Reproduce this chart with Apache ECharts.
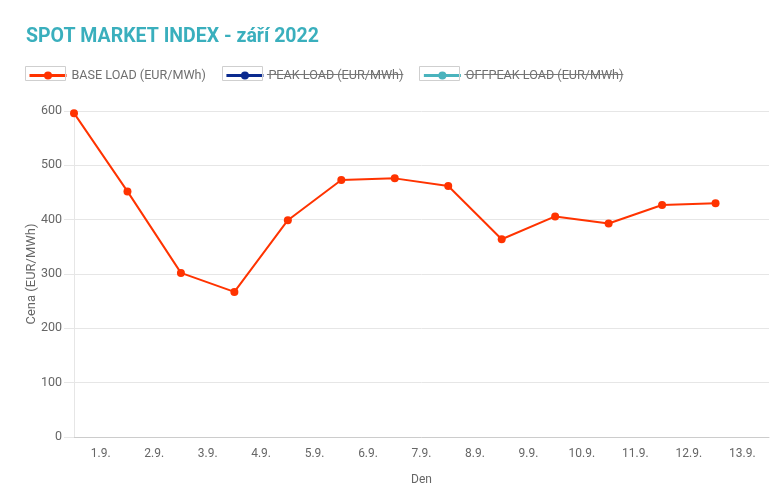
<!DOCTYPE html>
<html><head><meta charset="utf-8">
<script src="https://cdn.jsdelivr.net/npm/echarts@6/dist/echarts.min.js"></script>
<style>html,body{margin:0;padding:0;background:#fff}#c{width:780px;height:493px}</style>
</head><body><div id="c"></div>
<script>
const days = ['1.9.','2.9.','3.9.','4.9.','5.9.','6.9.','7.9.','8.9.','9.9.','10.9.','11.9.','12.9.','13.9.'];
const baseLoad = [596, 452, 302, 267, 399, 473, 476, 462, 364, 406, 393, 427, 430];
const peakLoad = [];
const offpeakLoad = [];
const yTicks = [0, 100, 200, 300, 400, 500, 600];

const chart = echarts.init(document.getElementById('c'), null, {renderer: 'canvas'});
const F = 'Roboto, "Liberation Sans", sans-serif';
const toPts = arr => arr.map((v, i) => [i, v]);

chart.setOption({
  animation: false,
  title: {
    text: 'SPOT MARKET INDEX - září 2022',
    left: 21, top: 22,
    textStyle: {color: '#3aafbd', fontSize: 19.5, fontWeight: 'bold', fontFamily: F}
  },
  legend: {
    left: 28, top: 69, padding: 0,
    itemWidth: 37, itemHeight: 10, itemGap: 19,
    lineStyle: {width: 3},
    textStyle: {color: '#6f6f6f', fontSize: 12.6, fontFamily: F},
    selectedMode: false,
    data: ['BASE LOAD (EUR/MWh)', 'PEAK LOAD (EUR/MWh)', 'OFFPEAK LOAD (EUR/MWh)']
  },
  grid: {left: 74, right: 11, top: 111, bottom: 56, containLabel: false},
  xAxis: [{
    type: 'category',
    data: days,
    boundaryGap: true,
    name: 'Den', nameLocation: 'middle', nameGap: 37, nameMoveOverlap: false,
    nameTextStyle: {color: '#666', fontSize: 12, fontFamily: F},
    axisLine: {show: true, lineStyle: {color: '#cccccc', width: 1}},
    axisTick: {show: false},
    axisLabel: {color: '#666', fontSize: 12, fontFamily: F, margin: 11},
    splitLine: {show: false}
  }, {
    type: 'value', min: 0, max: days.length, show: false
  }],
  yAxis: {
    type: 'value', min: 0, max: 600, interval: 100,
    name: 'Cena (EUR/MWh)', nameLocation: 'middle', nameGap: 36, nameRotate: 90,
    nameMoveOverlap: false,
    nameTextStyle: {color: '#666', fontSize: 13, fontFamily: F},
    axisLine: {show: true, lineStyle: {color: '#e6e6e6'}},
    axisTick: {show: true, length: 10, lineStyle: {color: '#e6e6e6'}},
    axisLabel: {color: '#666', fontSize: 12.5, fontFamily: F, margin: 12},
    splitLine: {lineStyle: {color: '#e6e6e6'}}
  },
  series: [{
    name: 'BASE LOAD (EUR/MWh)', type: 'line', xAxisIndex: 1,
    data: toPts(baseLoad),
    color: '#ff3300',
    symbol: 'circle', symbolSize: 8,
    lineStyle: {width: 2},
    clip: true
  }, {
    name: 'PEAK LOAD (EUR/MWh)', type: 'line', xAxisIndex: 1,
    data: toPts(peakLoad), color: '#0a2a8f',
    symbol: 'circle', symbolSize: 8, lineStyle: {width: 2}
  }, {
    name: 'OFFPEAK LOAD (EUR/MWh)', type: 'line', xAxisIndex: 1,
    data: toPts(offpeakLoad), color: '#4ab3bd',
    symbol: 'circle', symbolSize: 8, lineStyle: {width: 2}
  }]
});

// legend decorations: icon frames and strikethrough for hidden series
const decorate = () => {
  const lg = chart.getModel().getComponent('legend');
  const view = chart.getViewOfComponentModel(lg);
  const g = [];
  const items = view.getContentGroup().children();
  items.forEach((it, idx) => {
    const r = it.getBoundingRect();
    const x0 = it.x + lg.option.left, y0 = it.y + lg.option.top;
    g.push({type: 'rect', shape: {x: Math.round(x0) - 2.5, y: Math.round(y0) - 2.5, width: 40, height: 14},
      style: {fill: null, stroke: '#cfcfcf', lineWidth: 1}, z: 100, silent: true});
    if (idx > 0) {
      g.push({type: 'line', shape: {x1: x0 + 42, y1: y0 + 5.5, x2: x0 + r.width, y2: y0 + 5.5},
        style: {stroke: '#777', lineWidth: 1}, z: 100, silent: true});
    }
  });
  chart.setOption({graphic: g});
};
try { decorate(); } catch (e) {
  const boxes = [[25.5, 66.5], [220.5, 66.5], [415.5, 66.5]];
  const g = boxes.map(b => ({type: 'rect', shape: {x: b[0], y: b[1], width: 40, height: 14},
    style: {fill: null, stroke: '#cfcfcf', lineWidth: 1}, z: 100, silent: true}));
  g.push({type: 'line', shape: {x1: 265, y1: 74.5, x2: 400, y2: 74.5}, style: {stroke: '#777', lineWidth: 1}, z: 100, silent: true});
  g.push({type: 'line', shape: {x1: 460, y1: 74.5, x2: 618, y2: 74.5}, style: {stroke: '#777', lineWidth: 1}, z: 100, silent: true});
  chart.setOption({graphic: g});
}
</script>
</body></html>
